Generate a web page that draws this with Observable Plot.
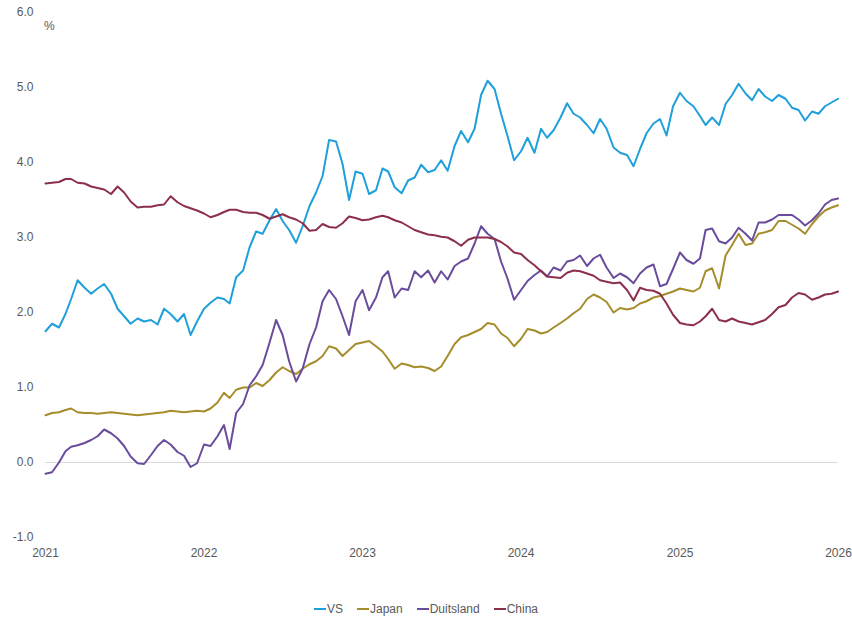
<!DOCTYPE html>
<html>
<head>
<meta charset="utf-8">
<script src="https://cdn.jsdelivr.net/npm/d3@7"></script>
<script src="https://cdn.jsdelivr.net/npm/@observablehq/plot@0.6"></script>
<style>
  html, body { margin: 0; padding: 0; background: #fff; }
  body { width: 852px; height: 621px; position: relative; font-family: "Liberation Sans", Arial, sans-serif; overflow: hidden; }
  #unit { position: absolute; left: 44px; top: 19px; font-size: 12px; color: #595959; }
  #legend { position: absolute; left: 0; top: 602px; width: 852px; text-align: center; font-size: 12px; color: #595959; line-height: 14px; height: 14px; }
  #legend span.item { display: inline-block; margin: 0 7px; vertical-align: top; }
  #legend span.sw { display: inline-block; width: 12px; height: 2px; margin-right: 1px; vertical-align: middle; position: relative; top: -1px; }
</style>
</head>
<body>
<div id="chart"></div>
<div id="unit">%</div>
<div id="legend"></div>
<script>
// Semi-monthly observation dates (1st and 16th of each month)
const dates = [];
for (let y = 2021; y <= 2025; y++) {
  for (let m = 0; m < 12; m++) {
    dates.push(new Date(Date.UTC(y, m, 1)));
    dates.push(new Date(Date.UTC(y, m, 16)));
  }
}
dates.push(new Date(Date.UTC(2025, 11, 31)));

const seriesNames = ["VS", "Japan", "Duitsland", "China"];
const seriesColors = ["#1fa0da", "#a68d2c", "#6a4c9c", "#8c2f4b"];

const vs = [
  1.75, 1.85, 1.80, 1.98, 2.18, 2.43, 2.33, 2.25, 2.32, 2.38, 2.25, 2.05,
  1.95, 1.85, 1.92, 1.88, 1.90, 1.84, 2.05, 1.98, 1.88, 1.98, 1.70, 1.88,
  2.05, 2.13, 2.20, 2.18, 2.12, 2.47, 2.56, 2.87, 3.08, 3.05, 3.23, 3.38,
  3.22, 3.10, 2.93, 3.15, 3.42, 3.60, 3.82, 4.30, 4.28, 3.98, 3.50, 3.88,
  3.85, 3.58, 3.63, 3.92, 3.88, 3.67, 3.59, 3.76, 3.80, 3.97, 3.87, 3.90,
  4.03, 3.89, 4.22, 4.42, 4.27, 4.45, 4.90, 5.09, 4.98, 4.65, 4.35, 4.03,
  4.15, 4.33, 4.13, 4.45, 4.33, 4.43, 4.60, 4.79, 4.65, 4.60, 4.50, 4.39,
  4.58, 4.45, 4.20, 4.13, 4.10, 3.95, 4.18, 4.39, 4.52, 4.58, 4.36, 4.75,
  4.93, 4.82, 4.75, 4.62, 4.50, 4.60, 4.50, 4.78, 4.90, 5.05, 4.92, 4.83,
  4.98, 4.88, 4.82, 4.90, 4.85, 4.73, 4.70, 4.56, 4.68, 4.65, 4.75, 4.80,
  4.85
];

const japan = [
  0.63, 0.66, 0.67, 0.70, 0.72, 0.67, 0.66, 0.66, 0.65, 0.66, 0.67, 0.66,
  0.65, 0.64, 0.63, 0.64, 0.65, 0.66, 0.67, 0.69, 0.68, 0.67, 0.68, 0.69,
  0.68, 0.72, 0.80, 0.93, 0.86, 0.97, 1.00, 1.00, 1.06, 1.02, 1.10, 1.20,
  1.27, 1.22, 1.18, 1.25, 1.31, 1.35, 1.42, 1.55, 1.52, 1.42, 1.50, 1.58,
  1.60, 1.62, 1.55, 1.48, 1.38, 1.25, 1.32, 1.30, 1.27, 1.28, 1.26, 1.22,
  1.28, 1.42, 1.58, 1.67, 1.70, 1.74, 1.78, 1.86, 1.84, 1.72, 1.66, 1.55,
  1.65, 1.78, 1.76, 1.72, 1.74, 1.80, 1.86, 1.92, 1.99, 2.05, 2.18, 2.24,
  2.20, 2.14, 2.00, 2.06, 2.04, 2.06, 2.12, 2.15, 2.20, 2.22, 2.25, 2.28,
  2.32, 2.30, 2.28, 2.33, 2.55, 2.59, 2.32, 2.76, 2.90, 3.05, 2.90, 2.92,
  3.05, 3.07, 3.10, 3.22, 3.22, 3.17, 3.12, 3.05, 3.18, 3.28, 3.36, 3.40,
  3.43
];

const duitsland = [
  -0.15, -0.13, 0.00, 0.15, 0.21, 0.23, 0.26, 0.30, 0.35, 0.44, 0.39, 0.32,
  0.22, 0.08, -0.01, -0.02, 0.10, 0.22, 0.30, 0.24, 0.14, 0.09, -0.06, -0.01,
  0.24, 0.22, 0.35, 0.50, 0.18, 0.66, 0.78, 1.03, 1.15, 1.30, 1.60, 1.90,
  1.70, 1.35, 1.08, 1.25, 1.58, 1.80, 2.15, 2.30, 2.18, 1.95, 1.70, 2.15,
  2.30, 2.03, 2.20, 2.47, 2.55, 2.20, 2.32, 2.30, 2.55, 2.47, 2.56, 2.40,
  2.55, 2.44, 2.62, 2.68, 2.72, 2.92, 3.15, 3.05, 2.98, 2.68, 2.45, 2.17,
  2.30, 2.42, 2.50, 2.56, 2.48, 2.60, 2.56, 2.68, 2.70, 2.76, 2.62, 2.72,
  2.77, 2.60, 2.46, 2.52, 2.47, 2.39, 2.52, 2.60, 2.64, 2.35, 2.38, 2.58,
  2.80, 2.70, 2.65, 2.72, 3.10, 3.12, 2.95, 2.92, 3.00, 3.13, 3.05, 2.96,
  3.20, 3.20, 3.24, 3.30, 3.30, 3.30, 3.24, 3.16, 3.23, 3.32, 3.44, 3.50,
  3.52
];

const china = [
  3.72, 3.73, 3.74, 3.78, 3.78, 3.73, 3.72, 3.68, 3.66, 3.64, 3.58, 3.68,
  3.60, 3.48, 3.40, 3.41, 3.41, 3.43, 3.44, 3.55, 3.47, 3.42, 3.39, 3.36,
  3.32, 3.27, 3.30, 3.34, 3.37, 3.37, 3.34, 3.33, 3.33, 3.30, 3.25, 3.28,
  3.31, 3.27, 3.24, 3.19, 3.09, 3.10, 3.18, 3.14, 3.13, 3.19, 3.28, 3.26,
  3.23, 3.24, 3.27, 3.29, 3.27, 3.23, 3.20, 3.15, 3.10, 3.07, 3.04, 3.03,
  3.01, 3.00, 2.95, 2.89, 2.97, 3.00, 3.00, 3.00, 2.98, 2.94, 2.88, 2.80,
  2.78, 2.70, 2.63, 2.55, 2.48, 2.47, 2.46, 2.53, 2.56, 2.55, 2.52, 2.49,
  2.43, 2.41, 2.39, 2.40, 2.30, 2.16, 2.33, 2.30, 2.29, 2.25, 2.12, 1.97,
  1.86, 1.84, 1.83, 1.88, 1.95, 2.05, 1.90, 1.88, 1.92, 1.88, 1.86, 1.84,
  1.87, 1.90, 1.98, 2.07, 2.10, 2.20, 2.26, 2.24, 2.17, 2.20, 2.24, 2.25,
  2.28
];

const yTicks = [-1, 0, 1, 2, 3, 4, 5, 6];
const xTickYears = [2021, 2022, 2023, 2024, 2025, 2026];

const valuesBySeries = [vs, japan, duitsland, china];
const rows = [];
seriesNames.forEach((name, k) => {
  valuesBySeries[k].forEach((v, i) => rows.push({date: dates[i], value: v, series: name}));
});

const chart = Plot.plot({
  width: 852,
  height: 590,
  marginTop: 12,
  marginLeft: 45,
  marginRight: 14,
  marginBottom: 53,
  style: {fontFamily: "'Liberation Sans', Arial, sans-serif", fontSize: "12px", color: "#595959", background: "#fff"},
  x: {type: "utc", domain: [new Date(Date.UTC(2021, 0, 1)), new Date(Date.UTC(2026, 0, 1))]},
  y: {domain: [-1, 6]},
  color: {domain: seriesNames, range: seriesColors},
  marks: [
    Plot.ruleY([0], {stroke: "#d9d9d9", strokeWidth: 1}),
    Plot.axisY({ticks: yTicks, tickFormat: d => d.toFixed(1), tickSize: 0, tickPadding: 12, label: null, fill: "#595959", fontSize: 12}),
    Plot.axisX({ticks: xTickYears.map(y => new Date(Date.UTC(y, 0, 1))), tickFormat: d3.utcFormat("%Y"), tickSize: 0, tickPadding: 11, label: null, fill: "#595959", fontSize: 12}),
    Plot.line(rows, {x: "date", y: "value", z: "series", stroke: "series", strokeWidth: 2, curve: "linear"})
  ]
});
document.getElementById("chart").appendChild(chart);

const legend = document.getElementById("legend");
seriesNames.forEach((name, k) => {
  const item = document.createElement("span");
  item.className = "item";
  const sw = document.createElement("span");
  sw.className = "sw";
  sw.style.background = seriesColors[k];
  item.appendChild(sw);
  item.appendChild(document.createTextNode(name));
  legend.appendChild(item);
});
</script>
</body>
</html>
